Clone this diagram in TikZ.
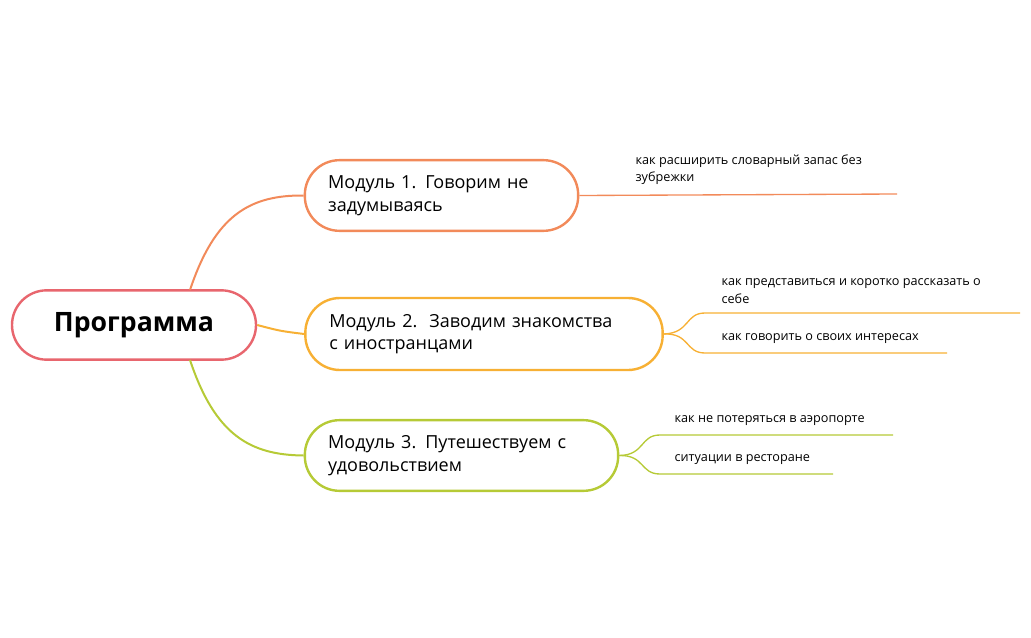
\documentclass[tikz,border=0pt]{standalone}
\usepackage{fontspec}
\setmainfont{Open Sans}
\definecolor{rootcol}{HTML}{E8666E}
\definecolor{onecol}{HTML}{F28A5A}
\definecolor{twocol}{HTML}{F7B034}
\definecolor{threecol}{HTML}{B6CA36}

\begin{document}
\begin{tikzpicture}[x=0.75pt,y=-0.75pt]
        \tikzstyle{topic} = [rectangle, rounded corners=26pt, line width=1.8pt, fill=white, inner sep=0pt, align=left, font=\fontsize{13.5}{17}\selectfont]
        \tikzstyle{leaf} = [anchor=south west, inner sep=1pt, align=left, font=\fontsize{9.5}{13}\selectfont]
        \tikzstyle{branch} = [line width=1.5pt]
        \tikzstyle{twig} = [line width=1pt]

        \useasboundingbox (0,0) rectangle (1031,638);

        \node (root) [topic, draw=rootcol, minimum width=183pt, minimum height=52pt, align=center, font=\fontsize{20}{24}\selectfont\bfseries] at (134,325) {Программа};
        \node (one) [topic, draw=onecol, minimum width=205pt, minimum height=53pt, text width=170pt] at (441.5,195.5) {Модуль 1. Говорим не\\задумываясь};
        \node (two) [topic, draw=twocol, minimum width=268pt, minimum height=54pt, text width=232pt] at (484,334) {Модуль 2.\ \ Заводим знакомства\\с иностранцами};
        \node (three) [topic, draw=threecol, minimum width=235pt, minimum height=53pt, text width=200pt] at (461.5,455.5) {Модуль 3. Путешествуем с\\удовольствием};

        % branches from the root
        \draw [branch, onecol] (190,290) .. controls (215,215) and (250,195) .. (one.west);
        \draw [branch, twocol] (root.east) .. controls (280,331) .. (two.west);
        \draw [branch, threecol] (190,360) .. controls (215,435) and (250,455) .. (three.west);

        % leaves
        \coordinate (oneA) at (897,194);
        \coordinate (twoA) at (1020,313);
        \coordinate (twoB) at (947,353);
        \coordinate (threeA) at (893,435);
        \coordinate (threeB) at (833,474);

        \node (oneAt) [leaf] at (634,186) {как расширить словарный запас без\\зубрежки};
        \node (twoAt) [leaf] at (720,305) {как представиться и коротко рассказать о\\себе};
        \node (twoBt) [leaf] at (720,345) {как говорить о своих интересах};
        \node (threeAt) [leaf] at (673,427) {как не потеряться в аэропорте};
        \node (threeBt) [leaf] at (673,466) {ситуации в ресторане};

        \draw [twig, onecol] (one.east) -- (oneA);
        \draw [twig, twocol] (two.east) .. controls (690,333) and (685,313) .. (705,313) -- (twoA);
        \draw [twig, twocol] (two.east) .. controls (690,333) and (685,353) .. (705,353) -- (twoB);
        \draw [twig, threecol] (three.east) .. controls (645,455) and (640,435) .. (660,435) -- (threeA);
        \draw [twig, threecol] (three.east) .. controls (645,455) and (640,474) .. (660,474) -- (threeB);
    \end{tikzpicture}
\end{document}
